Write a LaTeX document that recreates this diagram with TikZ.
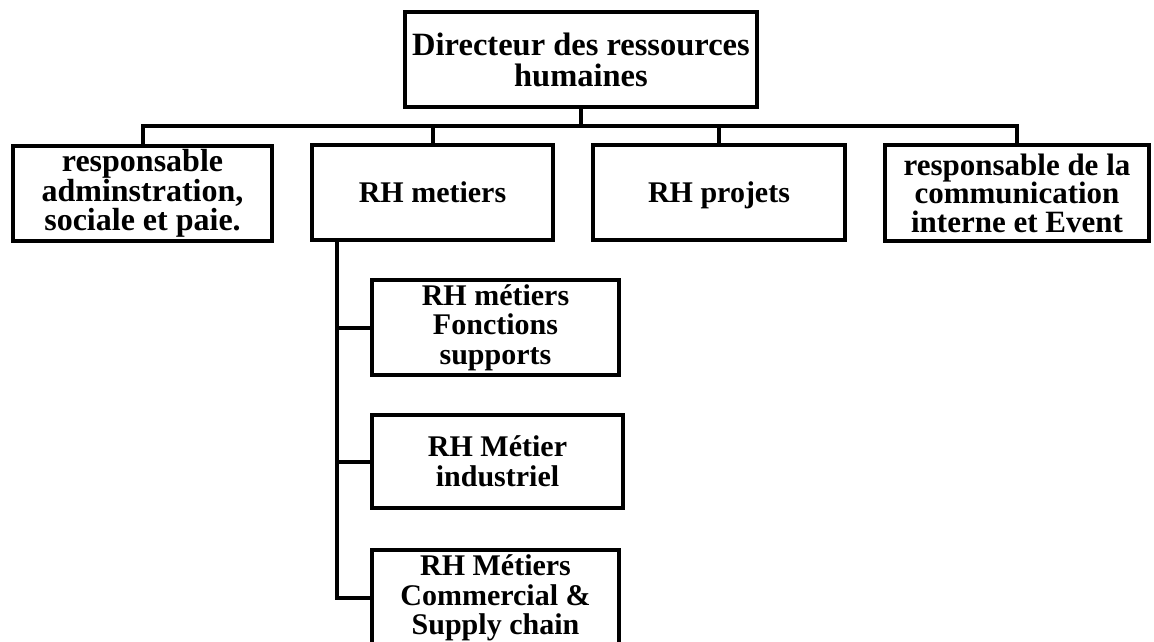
\documentclass[tikz,border=0pt]{standalone}
\usepackage{fontspec}
\setmainfont{Liberation Serif}
\begin{document}
\begin{tikzpicture}[x=1pt,y=-1pt,
  box/.style={draw=black, line width=4pt, rectangle, inner sep=0pt, align=center,
    font=\bfseries\fontsize{30}{29.5}\selectfont},
  wire/.style={draw=black, line width=4pt}]
\useasboundingbox (0,0) rectangle (1154,642);
\fill[white] (0,0) rectangle (1154,642);
% top
\node[box, minimum width=352pt, minimum height=95pt, font=\bfseries\fontsize{32.5}{31}\selectfont] (top) at (581,59.5) {Directeur des ressources\\humaines};
% level 2
\node[box, minimum width=259pt, minimum height=95pt, font=\bfseries\fontsize{32}{29}\selectfont] (adm) at (142.5,193) {responsable\\adminstration,\\sociale et paie.};
\node[box, minimum width=241pt, minimum height=95pt, text depth=0pt] (met) at (432.5,192.5) {RH metiers};
\node[box, minimum width=252pt, minimum height=95pt, text depth=0pt] (proj) at (719,192.5) {RH projets};
\node[box, minimum width=264pt, minimum height=96pt, font=\bfseries\fontsize{31}{28.5}\selectfont] (com) at (1017,193) {responsable de la\\communication\\interne et Event};
% level 3
\node[box, minimum width=247pt, minimum height=95pt] (s1) at (495.5,327.5) {RH métiers\\Fonctions\\supports};
\node[box, minimum width=251pt, minimum height=93pt] (s2) at (497.5,461.5) {RH Métier\\industriel};
\node[box, minimum width=247pt, minimum height=96pt] (s3) at (495.5,598) {RH Métiers\\Commercial \&\\Supply chain};
% connectors
\coordinate (bus) at (580,126);
\draw[wire] (top.south) -- (top.south |- bus);
\draw[wire] (adm.north) -- (adm.north |- bus) -- (com.north |- bus) -- (com.north);
\draw[wire] (met.north) -- (met.north |- bus);
\draw[wire] (proj.north) -- (proj.north |- bus);
\coordinate (trunk) at (337,240);
\draw[wire] (trunk) |- (s3.west);
\draw[wire] (trunk |- s1.west) -- (s1.west);
\draw[wire] (trunk |- s2.west) -- (s2.west);
\end{tikzpicture}
\end{document}
